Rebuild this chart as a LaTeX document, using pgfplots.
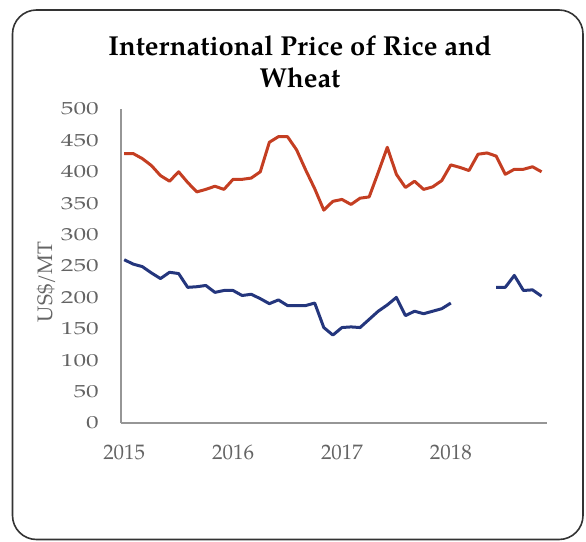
\documentclass[border=0pt]{standalone}
\usepackage{pgfplots}
\pgfplotsset{compat=1.18}
\usepackage{fontspec}
\setmainfont{TeX Gyre Pagella}
\newfontfamily\wideserif{TeX Gyre Pagella}[FakeStretch=1.45]

\definecolor{rice}{RGB}{196,62,34}
\definecolor{wheat}{RGB}{36,54,125}
\definecolor{axgray}{RGB}{150,150,150}
\definecolor{txtgray}{RGB}{100,100,100}

% month index (0 = Jan 2015), price in US$/MT
\pgfplotstableread{
m rice wheat
0 429 260
1 429 253
2 421 249
3 410 239
4 394 230
5 385 240
6 400 238
7 383 216
8 368 217
9 372 219
10 377 208
11 372 211
12 388 211
13 388 203
14 390 205
15 400 198
16 447 190
17 456 196
18 456 187
19 435 187
20 403 187
21 373 191
22 339 152
23 353 140
24 356 152
25 348 153
26 358 152
27 360 165
28 399 178
29 439 188
30 396 200
31 375 171
32 385 178
33 372 174
34 376 178
35 386 182
36 411 191
37 407 nan
38 402 nan
39 428 nan
40 430 nan
41 425 216
42 396 216
43 404 235
44 404 211
45 408 212
46 400 202
}\prices

\begin{document}
\begin{tikzpicture}
\path[use as bounding box] (0,0) rectangle (586bp,542bp);
\draw[line width=1.6bp, rounded corners=24bp, black!80] (12.5bp,2.5bp) rectangle (583bp,532bp);
\node[anchor=base, inner sep=0pt, font=\bfseries\fontsize{27.5}{32}\selectfont] at (300bp,486bp)
  {International Price of Rice and};
\node[anchor=base, inner sep=0pt, font=\bfseries\fontsize{27.5}{32}\selectfont] at (300bp,454bp)
  {Wheat};
\begin{axis}[
    at={(121bp,119bp)}, anchor=south west,
    scale only axis, width=426bp, height=314bp,
    xmin=-0.35, xmax=46.6, ymin=0, ymax=500,
    axis x line*=bottom, axis y line*=left,
    axis line style={axgray, line width=1.2bp, -},
    xtick={0,12,24,36}, xticklabels={2015,2016,2017,2018},
    ytick={0,50,...,500},
    major tick length=0pt,
    /pgf/number format/assume math mode=true,
    xticklabel style={txtgray, font=\fontsize{21}{24}\selectfont,
        anchor=base, inner sep=0pt, yshift=-37bp},
    yticklabel style={txtgray, font=\wideserif\fontsize{17.5}{20}\selectfont,
        anchor=east, inner sep=0pt, xshift=-22bp},
    ylabel={US\$/MT},
    ylabel style={txtgray, font=\fontsize{21}{24}\selectfont,
        at={(-75bp,141bp)}, anchor=center, inner sep=0pt},
    unbounded coords=jump,
    clip=false,
]
\addplot[rice, line width=3bp, line join=round] table[x=m, y=rice] {\prices};
\addplot[wheat, line width=3bp, line join=round] table[x=m, y=wheat] {\prices};
\end{axis}
\end{tikzpicture}
\end{document}
